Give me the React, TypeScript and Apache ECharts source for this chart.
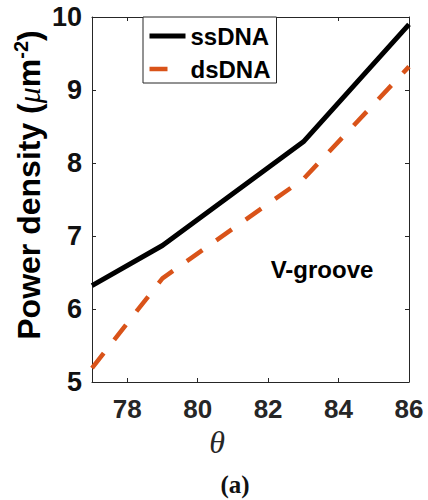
import React, { useEffect, useRef } from "react";
import * as echarts from "echarts";

const thetaValues = [77, 79, 83, 86];
const ssDNA = [6.32, 6.87, 8.29, 9.9];
const dsDNA = [5.19, 6.42, 7.78, 9.32];
const xTicks = [78, 80, 82, 84, 86];
const seriesNames = ["ssDNA", "dsDNA"];

const SANS = "'Liberation Sans', Arial, sans-serif";
const SERIF = "'Liberation Serif', 'Times New Roman', serif";
const AX = "#262626";
const ORANGE = "#D95319";

export default function App() {
  const ref = useRef<HTMLDivElement>(null);
  useEffect(() => {
    if (!ref.current) return;
    const chart = echarts.init(ref.current, undefined, { renderer: "svg" });
    const axisCommon = {
      type: "value" as const,
      axisLine: { show: true, lineStyle: { color: AX, width: 1 } },
      splitLine: { show: false },
    };
    chart.setOption({
      animation: false,
      backgroundColor: "#fff",
      grid: { left: 92, right: 19, top: 17, bottom: 118 },
      legend: {
        data: [
          { name: seriesNames[0], lineStyle: { color: "#000", width: 5 } },
          { name: seriesNames[1], lineStyle: { color: ORANGE, width: 4.5, type: [18, 19] } },
        ],
        orient: "vertical",
        left: 143,
        top: 17,
        itemWidth: 36,
        itemHeight: 24,
        itemGap: 9,
        padding: [7, 6, 2, 4],
        borderColor: AX,
        borderWidth: 1,
        backgroundColor: "#fff",
        itemStyle: { opacity: 0 },
        textStyle: { fontSize: 24, fontWeight: "bold", color: "#000", fontFamily: SANS },
      },
      xAxis: [
        {
          ...axisCommon,
          min: 77,
          max: 86,
          position: "bottom",
          axisTick: { show: true, inside: true, length: 4, customValues: xTicks, lineStyle: { color: AX } },
          axisLabel: {
            customValues: xTicks,
            fontSize: 26,
            fontWeight: "bold",
            color: AX,
            fontFamily: SANS,
            margin: 14,
          },
        },
        {
          ...axisCommon,
          min: 77,
          max: 86,
          position: "top",
          axisTick: { show: true, inside: true, length: 4, customValues: xTicks, lineStyle: { color: AX } },
          axisLabel: { show: false },
        },
      ],
      yAxis: [
        {
          ...axisCommon,
          min: 5,
          max: 10,
          interval: 1,
          position: "left",
          axisTick: { show: true, inside: true, length: 4, lineStyle: { color: AX } },
          axisLabel: { fontSize: 27, fontWeight: "bold", color: "#111", fontFamily: SANS, margin: 10 },
        },
        {
          ...axisCommon,
          min: 5,
          max: 10,
          interval: 1,
          position: "right",
          axisTick: { show: true, inside: true, length: 4, lineStyle: { color: AX } },
          axisLabel: { show: false },
        },
      ],
      series: [
        {
          name: seriesNames[0],
          type: "line",
          symbol: "none",
          data: thetaValues.map((t, i) => [t, ssDNA[i]]),
          lineStyle: { color: "#000", width: 5 },
          itemStyle: { color: "#000" },
        },
        {
          name: seriesNames[1],
          type: "line",
          symbol: "none",
          data: thetaValues.map((t, i) => [t, dsDNA[i]]),
          lineStyle: { color: ORANGE, width: 4.5, type: [19, 17] },
          itemStyle: { color: ORANGE },
        },
      ],
      graphic: [
        {
          type: "text",
          x: 322,
          y: 269,
          style: {
            text: "V-groove",
            fill: "#000",
            font: `bold 24px ${SANS}`,
            textAlign: "center",
            textVerticalAlign: "middle",
          },
        },
        {
          type: "text",
          x: 217,
          y: 442,
          style: {
            text: "θ",
            fill: AX,
            font: `italic 32px ${SERIF}`,
            textAlign: "center",
            textVerticalAlign: "middle",
          },
        },
        {
          type: "text",
          x: 235,
          y: 484,
          style: {
            text: "(a)",
            fill: "#111",
            font: `bold 25px ${SERIF}`,
            textAlign: "center",
            textVerticalAlign: "middle",
          },
        },
        {
          type: "text",
          x: 29,
          y: 185,
          rotation: Math.PI / 2,
          style: {
            text: "{a|Power density (}{b|μ}{a|m}{c|-2}{a|)}",
            textAlign: "center",
            textVerticalAlign: "middle",
            rich: {
              a: { fontSize: 32, fontWeight: "bold", fontFamily: SANS, fill: "#000", color: "#000", lineHeight: 36 },
              b: { fontSize: 32, fontStyle: "italic", fontFamily: SERIF, fill: "#000", color: "#000", lineHeight: 36 },
              c: { fontSize: 20, fontWeight: "bold", fontFamily: SANS, fill: "#000", color: "#000", lineHeight: 36, verticalAlign: "top" },
            },
          },
        },
      ],
    });
    return () => chart.dispose();
  }, []);
  return (
    <div
      ref={ref}
      style={{ position: "fixed", left: 0, top: 0, width: 428, height: 500, background: "#fff" }}
    />
  );
}
